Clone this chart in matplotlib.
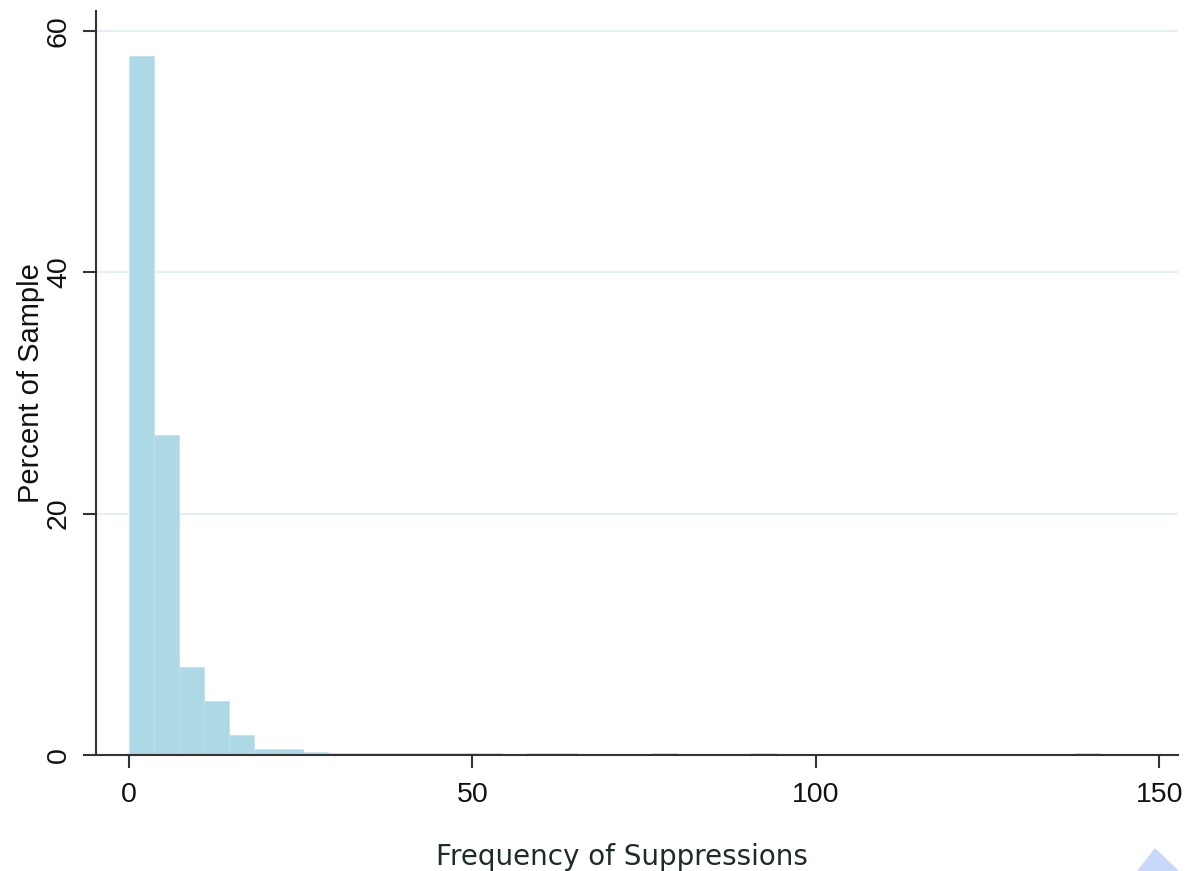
import matplotlib.pyplot as plt
import numpy as np
from matplotlib.patches import Polygon

# histogram: 40 bins of width 3.625 covering 0..145
bin_lo = 0
bin_hi = 145
percent = [57.9, 26.5, 7.3, 4.5, 1.7, 0.55, 0.47, 0.28, 0.2, 0.15,
           0.15, 0.15, 0.15, 0.18, 0.18, 0.0, 0.22, 0.22, 0.0, 0.0,
           0.0, 0.22, 0.0, 0.0, 0.0, 0.22, 0.0, 0.0, 0.0, 0.0,
           0.0, 0.0, 0.0, 0.0, 0.0, 0.0, 0.0, 0.0, 0.22, 0.0]
xticks = [0, 50, 100, 150]
yticks = [0, 20, 40, 60]

edges = np.linspace(bin_lo, bin_hi, len(percent) + 1)

fig = plt.figure(figsize=(11.86, 8.71), dpi=100)
ax = fig.add_axes([0.081, 0.133, 0.912, 0.854])

ax.bar(edges[:-1], percent, width=np.diff(edges), align='edge',
       color='#add8e6', edgecolor='#c2e2ec', linewidth=0.6, zorder=2)

ax.set_xlim(-4.8, 152.7)
ax.set_ylim(0, 61.6)
ax.set_xticks(xticks)
ax.set_yticks(yticks)

ax.yaxis.grid(True, color='#e6eff1', linewidth=1.6, zorder=0)
ax.set_axisbelow(True)

for s in ['top', 'right']:
    ax.spines[s].set_visible(False)
for s in ['left', 'bottom']:
    ax.spines[s].set_color('#333333')
    ax.spines[s].set_linewidth(1.5)
ax.spines['left'].set_bounds(0, 61.6)

ax.tick_params(axis='both', length=9.4, width=1.5, color='#333333',
               labelsize=20.5, labelcolor='#111111')
ax.tick_params(axis='x', pad=10)
ax.tick_params(axis='y', pad=8, labelrotation=90)
for lbl in ax.get_yticklabels():
    lbl.set_va('center')
    lbl.set_fontfamily('Liberation Sans')
for lbl in ax.get_xticklabels():
    lbl.set_fontfamily('Liberation Sans')

ax.set_ylabel('Percent of Sample', fontsize=21, family='Liberation Sans',
              color='#111111', labelpad=1)
fig.text(0.524, 0.007, 'Frequency of Suppressions', fontsize=20,
         family='DejaVu Sans', color='#1e2b2b', ha='center', va='baseline')

# small decorative triangle in the bottom-right corner
W, H = 1186, 871
tri = Polygon([(1138 / W, 0), (1155 / W, 22 / H), (1178 / W, 0)],
              closed=True, transform=fig.transFigure, color='#c8d8fa',
              zorder=5)
fig.patches.append(tri)

fig.savefig('out.png', dpi=100)
